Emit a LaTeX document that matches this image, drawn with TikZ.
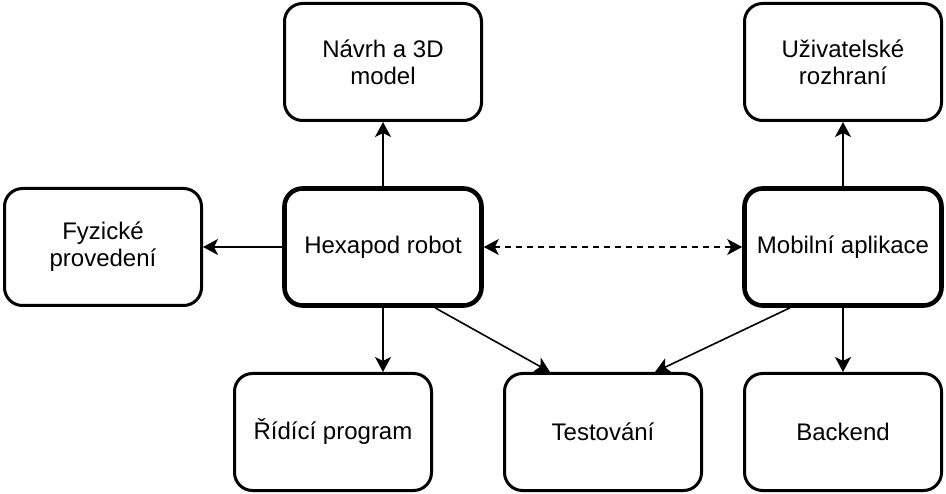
\documentclass[tikz,border=0pt]{standalone}
\usepackage{fontspec}
\setmainfont{Liberation Sans}
\usetikzlibrary{arrows.meta}

\begin{document}
\begin{tikzpicture}[x=1pt,y=-1pt,
    box/.style={draw,line width=3pt,rounded corners=18pt,minimum width=197pt,
      minimum height=117pt,align=center,font=\fontsize{24}{27}\selectfont},
    mainbox/.style={box,line width=4.6pt},
    arr/.style={line width=1.6pt,-{Stealth[length=15pt,width=16pt,inset=4pt]}}]
  \useasboundingbox (0,0) rectangle (946,494);
  \node[box] (navrh) at (383,62) {Návrh a 3D\\model};
  \node[box] (uziv) at (843,62) {Uživatelské\\rozhraní};
  \node[box] (fyz) at (103,247) {Fyzické\\provedení};
  \node[mainbox] (hex) at (383,247) {Hexapod robot};
  \node[mainbox] (mob) at (843,247) {Mobilní aplikace};
  \node[box] (ridici) at (333,432) {Řídící program};
  \node[box] (test) at (603,432) {Testování};
  \node[box] (back) at (843,432) {Backend};
  \draw[arr] (hex.north) -- (navrh.south);
  \draw[arr] (hex.west) -- (fyz.east);
  \draw[arr] (hex.south) -- ([xshift=50pt]ridici.north);
  \draw[arr] ([xshift=52pt]hex.south) -- ([xshift=-53pt]test.north);
  \draw[arr,{Stealth[length=15pt,width=16pt,inset=4pt]}-{Stealth[length=15pt,width=16pt,inset=4pt]},
    dash pattern=on 6pt off 5pt] (hex.east) -- (mob.west);
  \draw[arr] (mob.north) -- (uziv.south);
  \draw[arr] ([xshift=-53pt]mob.south) -- ([xshift=52pt]test.north);
  \draw[arr] (mob.south) -- (back.north);
\end{tikzpicture}
\end{document}
